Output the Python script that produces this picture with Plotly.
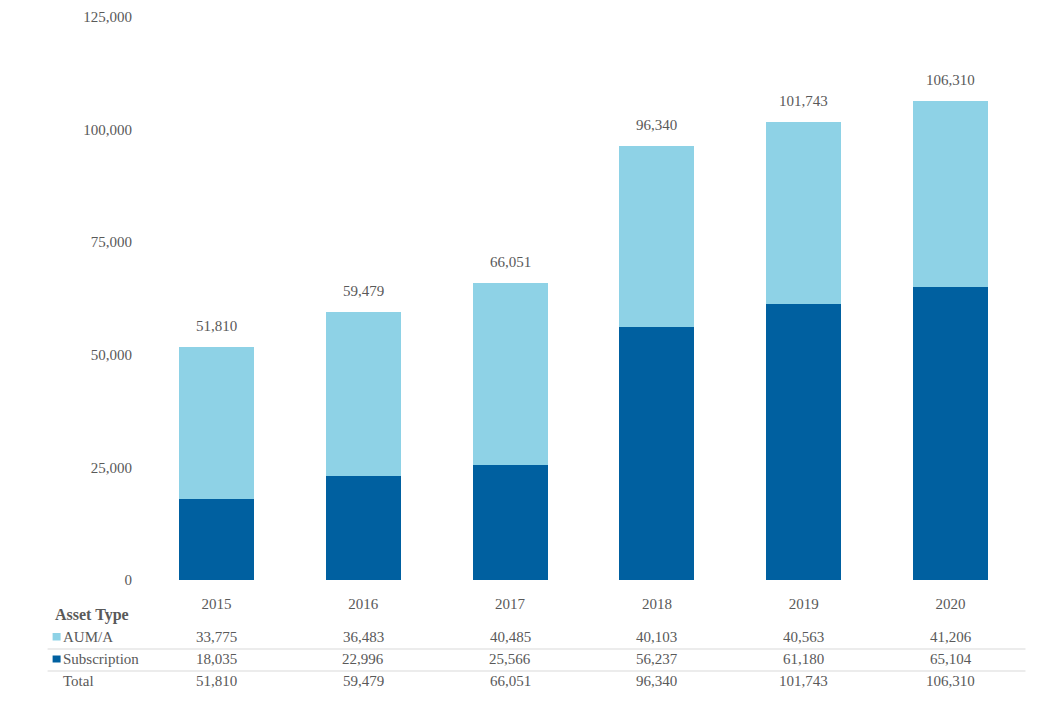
import plotly.graph_objects as go

years = ["2015", "2016", "2017", "2018", "2019", "2020"]
aum = [33775, 36483, 40485, 40103, 40563, 41206]
subscription = [18035, 22996, 25566, 56237, 61180, 65104]
totals = [a + s for a, s in zip(aum, subscription)]
y_ticks = [0, 25000, 50000, 75000, 100000, 125000]

LIGHT = "#8ED2E6"
DARK = "#0060A0"
GRAY = "#595959"
FONT = "Liberation Serif"
FS = 15

OFF = 8  # page body margin
W, H = 1046 - 2 * OFF, 702 - 2 * OFF
TOP_REF, BOT_REF = 17, 580
L = 142.5 - OFF
T = TOP_REF - OFF
R = W - (1024.5 - OFF)
B = H - (BOT_REF - OFF)
PW = W - L - R


def px(x):
    return (x - OFF - L) / PW


def py(y):
    return (BOT_REF - y) / (BOT_REF - TOP_REF)


fig = go.Figure()
fig.add_trace(go.Bar(x=years, y=subscription, name="Subscription",
                     marker=dict(color=DARK, line=dict(width=0)), width=0.51))
fig.add_trace(go.Bar(x=years, y=aum, name="AUM/A",
                     marker=dict(color=LIGHT, line=dict(width=0)), width=0.51))

ann = []
for i, t in enumerate(totals):
    ann.append(dict(x=i, y=t, xref="x", yref="y", text=f"{t:,}", showarrow=False,
                    yanchor="bottom", yshift=11, font=dict(family=FONT, size=FS, color=GRAY)))

rows = [("AUM/A", aum, 637), ("Subscription", subscription, 659), ("Total", totals, 681)]
for label, vals, ypix in rows:
    for i, v in enumerate(vals):
        ann.append(dict(x=i, y=py(ypix), xref="x", yref="paper", text=f"{v:,}",
                        showarrow=False, yanchor="middle",
                        font=dict(family=FONT, size=FS, color=GRAY)))

ann.append(dict(x=px(60), y=py(637), xref="paper", yref="paper", text="AUM/A", showarrow=False,
                xanchor="left", yanchor="middle", font=dict(family=FONT, size=FS, color=GRAY)))
ann.append(dict(x=px(60), y=py(659), xref="paper", yref="paper", text="Subscription", showarrow=False,
                xanchor="left", yanchor="middle", font=dict(family=FONT, size=FS, color=GRAY)))
ann.append(dict(x=px(60), y=py(681), xref="paper", yref="paper", text="Total", showarrow=False,
                xanchor="left", yanchor="middle", font=dict(family=FONT, size=FS, color=GRAY)))
ann.append(dict(x=px(52), y=py(615), xref="paper", yref="paper", text="<b>Asset Type</b>",
                showarrow=False, xanchor="left", yanchor="middle",
                font=dict(family=FONT, size=16, color=GRAY)))

shapes = [
    dict(type="rect", xref="paper", yref="paper", x0=px(52), x1=px(60), y0=py(640.5), y1=py(633),
         fillcolor=LIGHT, line=dict(width=0)),
    dict(type="rect", xref="paper", yref="paper", x0=px(52), x1=px(60), y0=py(662.5), y1=py(655.5),
         fillcolor=DARK, line=dict(width=0)),
    dict(type="line", xref="paper", yref="paper", x0=px(47), x1=px(1026), y0=py(649), y1=py(649),
         line=dict(color="#D9D9D9", width=1)),
    dict(type="line", xref="paper", yref="paper", x0=px(47), x1=px(1026), y0=py(671), y1=py(671),
         line=dict(color="#D9D9D9", width=1)),
]

fig.update_layout(
    width=W, height=H,
    margin=dict(l=L, r=R, t=T, b=B, pad=0, autoexpand=False),
    barmode="stack",
    plot_bgcolor="white", paper_bgcolor="white",
    showlegend=False,
    annotations=ann,
    shapes=shapes,
    font=dict(family=FONT, size=FS, color=GRAY),
    xaxis=dict(type="category", range=[-0.5, 5.5], showline=False, showgrid=False, ticks="",
               automargin=False, ticklabelstandoff=13,
               tickfont=dict(family=FONT, size=FS, color=GRAY)),
    yaxis=dict(range=[0, 125000], tickvals=y_ticks, tickformat=",", showgrid=False,
               zeroline=False, showline=False, ticks="", automargin=False, ticklabelstandoff=10,
               tickfont=dict(family=FONT, size=FS, color=GRAY)),
)

fig.write_html("out.html")
